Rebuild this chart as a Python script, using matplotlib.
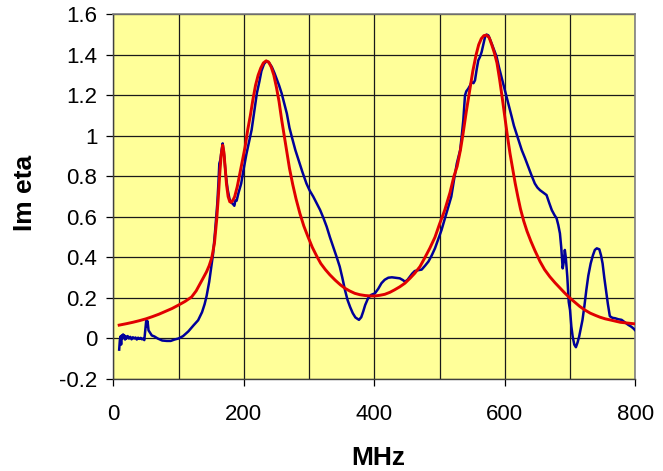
import matplotlib
matplotlib.use("Agg")
import matplotlib.pyplot as plt

# Measured response (blue) : frequency in MHz and Im(eta)
meas_mhz = [9, 10, 11, 12, 13, 14, 15, 16, 17, 18, 19, 20, 22, 24, 26, 28, 30, 32, 34, 36,
            38, 40, 42, 44, 46, 47.5, 49, 50.5, 51.5, 52.5, 54, 56, 59, 63, 68, 75, 82, 88, 94, 100,
            107, 115, 123, 130, 136, 140, 143, 147, 150, 153, 156, 159.4, 161, 162.5, 164, 166, 167.6,
            170, 172, 175, 178, 181, 183, 185.5, 187, 189, 192, 196, 200, 204, 208, 212, 216, 220,
            224, 227, 231, 235, 239, 243, 247, 250.5, 254, 258, 262, 266, 270, 274, 279, 284, 290,
            296, 301, 306.5, 312, 317, 322, 327, 332, 337, 342, 347, 351, 355, 359, 363, 367, 371,
            376.5, 380, 383, 386, 390.5, 395, 401, 406, 411, 416, 421.5, 427, 432, 439, 444, 447,
            451, 454.6, 458, 462, 467, 472.6, 478, 483, 488, 493, 498, 503, 508, 513.5, 518, 522,
            526.5, 531.6, 534, 536.4, 538, 539, 541, 544, 547, 549, 552, 554.3, 557, 559.4, 562,
            564.5, 567, 569.7, 572, 574.8, 577, 580, 584, 587.5, 591, 595, 599, 603, 607, 610.6,
            614, 618, 622, 626, 631, 636, 641, 646, 650, 654, 659, 664, 668, 672, 676, 679.4, 682,
            684.5, 686.5, 688.7, 690.5, 692, 693.5, 695.8, 698, 700, 702, 704, 706.5, 709, 711.5,
            714, 716.5, 719, 722, 725, 728, 731.6, 735, 738, 741, 744.9, 747.5, 749.9, 752.5, 755,
            758, 761, 765, 769, 774, 779, 784, 789.4, 794, 797, 800]
meas_im = [-0.055, -0.01, 0.01, -0.03, 0.015, 0.0, 0.02, 0.005, 0.015, -0.005, 0.01, 0.0, 0.012,
           0.0, 0.008, -0.004, 0.006, 0.0, 0.005, -0.005, 0.004, -0.002, 0.003, -0.004, 0.0, -0.008,
           0.04, 0.09, 0.06, 0.085, 0.04, 0.03, 0.015, 0.01, 0.0, -0.01, -0.012, -0.012, -0.005, 0.0,
           0.012, 0.035, 0.065, 0.09, 0.13, 0.17, 0.21, 0.28, 0.35, 0.42, 0.53, 0.667, 0.76, 0.864,
           0.88, 0.93, 0.963, 0.90, 0.82, 0.74, 0.69, 0.67, 0.665, 0.655, 0.68, 0.68, 0.72, 0.765,
           0.84, 0.91, 0.97, 1.03, 1.12, 1.21, 1.27, 1.32, 1.355, 1.37, 1.36, 1.34, 1.31, 1.28, 1.25,
           1.21, 1.16, 1.11, 1.04, 0.99, 0.93, 0.88, 0.82, 0.765, 0.73, 0.70, 0.665, 0.634, 0.595,
           0.552, 0.50, 0.453, 0.405, 0.355, 0.30, 0.24, 0.19, 0.155, 0.125, 0.104, 0.092, 0.105,
           0.133, 0.165, 0.199, 0.215, 0.223, 0.245, 0.273, 0.29, 0.30, 0.302, 0.30, 0.297, 0.288,
           0.28, 0.29, 0.305, 0.32, 0.333, 0.337, 0.34, 0.36, 0.38, 0.41, 0.445, 0.49, 0.535, 0.59,
           0.65, 0.70, 0.78, 0.864, 0.93, 1.0, 1.077, 1.15, 1.20, 1.22, 1.233, 1.25, 1.266, 1.26,
           1.274, 1.33, 1.373, 1.39, 1.414, 1.45, 1.488, 1.50, 1.496, 1.48, 1.455, 1.42, 1.39, 1.34,
           1.29, 1.24, 1.19, 1.14, 1.094, 1.05, 1.01, 0.97, 0.93, 0.89, 0.847, 0.805, 0.765, 0.745,
           0.732, 0.72, 0.708, 0.67, 0.634, 0.61, 0.593, 0.56, 0.519, 0.45, 0.346, 0.38, 0.437, 0.40,
           0.305, 0.18, 0.14, 0.06, 0.01, -0.03, -0.043, -0.02, 0.01, 0.05, 0.09, 0.16, 0.24, 0.31,
           0.37, 0.41, 0.437, 0.445, 0.44, 0.41, 0.37, 0.30, 0.24, 0.17, 0.11, 0.102, 0.10, 0.095,
           0.092, 0.08, 0.067, 0.058, 0.05, 0.04]

# Fitted model (red)
fit_mhz = [9, 20, 30, 40, 50, 60, 70, 80, 90, 100, 110, 120, 127, 133, 138, 143, 147, 151, 155,
           158.4, 161, 163.5, 165.5, 167.6, 169.5, 171.5, 173.5, 176, 178.5, 180.5, 183, 186, 190,
           194, 198, 202, 206, 210, 214, 218, 222, 226, 230, 234, 238, 242, 246, 250, 254, 258, 262,
           266, 270, 275, 280, 286, 292, 298, 305, 312, 318, 325, 332, 340, 348, 355, 362, 370, 378,
           386, 394, 401, 408, 416, 424, 431, 439, 447, 455, 462, 470, 477, 485, 493, 500, 508, 516,
           522, 527, 532, 536, 541, 546, 551, 556, 560, 564, 568, 572, 576, 580, 584, 588, 592, 596,
           600, 604, 608, 612, 616, 620, 624, 629, 634, 640, 646, 654, 661, 669, 677, 685, 692, 700,
           707, 715, 723, 731, 739, 746, 754, 761, 770, 777, 788, 800]
fit_im = [0.066, 0.073, 0.080, 0.088, 0.097, 0.108, 0.12, 0.134, 0.148, 0.165, 0.183, 0.205, 0.235,
          0.27, 0.30, 0.33, 0.36, 0.40, 0.47, 0.585, 0.70, 0.83, 0.91, 0.954, 0.92, 0.84, 0.76, 0.70,
          0.675, 0.672, 0.68, 0.70, 0.75, 0.814, 0.88, 0.946, 1.03, 1.10, 1.18, 1.25, 1.30, 1.335,
          1.36, 1.37, 1.365, 1.34, 1.30, 1.24, 1.17, 1.08, 1.00, 0.92, 0.84, 0.76, 0.69, 0.617, 0.555,
          0.505, 0.45, 0.405, 0.37, 0.34, 0.314, 0.288, 0.265, 0.248, 0.235, 0.223, 0.216, 0.212,
          0.21, 0.21, 0.213, 0.218, 0.228, 0.24, 0.255, 0.273, 0.298, 0.322, 0.355, 0.396, 0.445,
          0.50, 0.565, 0.634, 0.72, 0.80, 0.85, 0.93, 1.01, 1.12, 1.22, 1.32, 1.40, 1.45, 1.48,
          1.495, 1.497, 1.485, 1.45, 1.41, 1.36, 1.28, 1.19, 1.094, 1.0, 0.913, 0.84, 0.765, 0.70,
          0.64, 0.58, 0.53, 0.48, 0.435, 0.38, 0.34, 0.305, 0.275, 0.248, 0.224, 0.199, 0.18, 0.158,
          0.14, 0.125, 0.114, 0.105, 0.097, 0.092, 0.085, 0.08, 0.076, 0.072]

x_ticks = [0, 200, 400, 600, 800]
x_tick_labels = ["0", "200", "400", "600", "800"]
y_ticks = [-0.2, 0.0, 0.2, 0.4, 0.6, 0.8, 1.0, 1.2, 1.4, 1.6]
y_tick_labels = ["-0.2", "0", "0.2", "0.4", "0.6", "0.8", "1", "1.2", "1.4", "1.6"]

plt.rcParams["font.family"] = ["Liberation Sans", "DejaVu Sans"]

fig = plt.figure(figsize=(6.63, 4.71), dpi=100)
fig.patch.set_facecolor("white")
ax = fig.add_axes([0.1709, 0.1953, 0.7873, 0.7743])
ax.set_facecolor("#FFFF99")

ax.plot(meas_mhz, meas_im, color="#000099", lw=1.8, solid_joinstyle="round", zorder=3)
ax.plot(fit_mhz, fit_im, color="#E00000", lw=2.1, solid_joinstyle="round", zorder=4)

ax.set_xlim(0, 800)
ax.set_ylim(-0.2, 1.6)
ax.set_xticks(x_ticks)
ax.set_xticklabels(x_tick_labels)
ax.set_xticks(list(range(100, 800, 200)), minor=True)
ax.set_yticks(y_ticks)
ax.set_yticklabels(y_tick_labels)

ax.grid(True, which="both", axis="x", color="#1a1a1a", lw=0.9)
ax.grid(True, which="major", axis="y", color="#1a1a1a", lw=0.9)
ax.set_axisbelow(True)

ax.tick_params(axis="both", which="major", direction="out", length=5, width=0.9,
               color="black", labelsize=16)
ax.tick_params(axis="y", which="major", pad=6.5)
ax.tick_params(axis="x", which="major", pad=13)
ax.tick_params(axis="x", which="minor", length=0)

for side in ("top", "right"):
    ax.spines[side].set_color("#808080")
    ax.spines[side].set_linewidth(1.2)
for side in ("left", "bottom"):
    ax.spines[side].set_color("#404040")
    ax.spines[side].set_linewidth(1.0)

ax.set_xlabel("MHz", fontsize=19, fontweight="bold")
ax.xaxis.set_label_coords(0.507, -0.2166)
ax.xaxis.label.set_verticalalignment("center")
ax.set_ylabel("Im eta", fontsize=19, fontweight="bold")
ax.yaxis.set_label_coords(-0.170, 0.51)
ax.yaxis.label.set_verticalalignment("center")

fig.savefig("out.png", dpi=100, facecolor="white")
